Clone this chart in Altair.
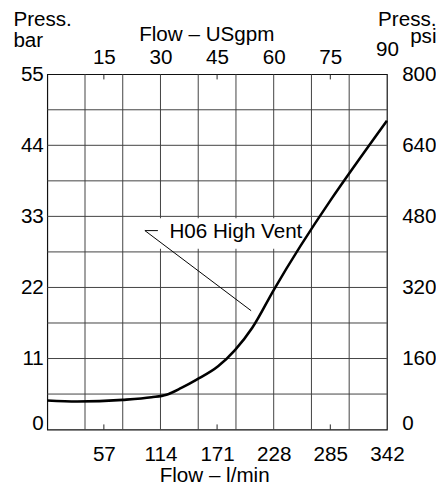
import altair as alt
import pandas as pd

# ---- data ----
flow_lpm = [0, 30, 76, 105, 120, 135, 150, 172, 189, 206.6, 228, 342]
press_bar = [4.5, 4.35, 4.6, 5.0, 5.4, 6.45, 7.7, 9.8, 12.3, 15.8, 21.6, 47.8]

grid_lpm = [38, 76, 114, 152, 190, 228, 266, 304]
grid_bar = [5.5, 11, 16.5, 22, 27.5, 33, 38.5, 44, 49.5]

lpm_labels = [57, 114, 171, 228, 285, 342]
usgpm_labels = [15, 30, 45, 60, 75, 90]
bar_labels = [0, 11, 22, 33, 44, 55]
psi_labels = [0, 160, 320, 480, 640, 800]
minor_tick_lpm = [57, 171, 285]

annot_text = ["H06 High Vent"]
annot_lpm = [123]
annot_bar = [29.6]
leader_lpm = [111.4, 98.3, 205.3]
leader_bar = [30.8, 30.8, 18.4]
box_lpm = [100, 259]
box_bar = [28.0, 32.7]

FONT = "Liberation Sans"
FS = 21

xs = alt.Scale(domain=[0, 342], nice=False, zero=False)
ys = alt.Scale(domain=[0, 55], nice=False, zero=False)
ps = alt.Scale(domain=[0, 800], nice=False, zero=False)

vgrid = alt.Chart(pd.DataFrame({"lpm": grid_lpm})).mark_rule(
    color="#404040", strokeWidth=1
).encode(x=alt.X("lpm:Q", scale=xs, axis=None))

hgrid = alt.Chart(pd.DataFrame({"bar": grid_bar})).mark_rule(
    color="#404040", strokeWidth=1
).encode(y=alt.Y("bar:Q", scale=ys, axis=None))

box = alt.Chart(pd.DataFrame({"x1": [box_lpm[0]], "x2": [box_lpm[1]],
                              "y1": [box_bar[0]], "y2": [box_bar[1]]})).mark_rect(
    fill="white"
).encode(x=alt.X("x1:Q", scale=xs, axis=None), x2="x2:Q",
         y=alt.Y("y1:Q", scale=ys, axis=None), y2="y2:Q")

tick_df = pd.DataFrame({
    "lpm": minor_tick_lpm * 2,
    "y1": [0] * 3 + [55] * 3,
    "y2": [0.8] * 3 + [54.2] * 3,
})
ticks = alt.Chart(tick_df).mark_rule(color="#222", strokeWidth=1).encode(
    x=alt.X("lpm:Q", scale=xs, axis=None),
    y=alt.Y("y1:Q", scale=ys, axis=None), y2="y2:Q")

curve = alt.Chart(pd.DataFrame({"lpm": flow_lpm, "bar": press_bar})).mark_line(
    color="black", strokeWidth=2.6, interpolate="monotone"
).encode(
    x=alt.X("lpm:Q", scale=xs, axis=alt.Axis(
        orient="bottom", values=lpm_labels, ticks=False, grid=False, domain=False,
        labelPadding=14, labelFlush=False, labelOverlap=False,
        title="Flow – l/min", titleBaseline="alphabetic", titleY=53, titleX=170)),
    y=alt.Y("bar:Q", scale=ys, axis=alt.Axis(
        orient="left", values=bar_labels, ticks=False, grid=False, domain=False,
        labelPadding=4, labelOverlap=False,
        labelBaseline={"condition": {"test": "datum.value == 0", "value": "alphabetic"},
                       "value": "middle"},
        title=["Press.", "bar"], titleAngle=0, titleAlign="left",
        titleBaseline="alphabetic", titleX=-35, titleY=-50, titleLineHeight=22)),
)

leader = alt.Chart(pd.DataFrame({"lpm": leader_lpm, "bar": leader_bar,
                                 "o": list(range(len(leader_lpm)))})).mark_line(
    color="black", strokeWidth=1
).encode(x=alt.X("lpm:Q", scale=xs, axis=None),
         y=alt.Y("bar:Q", scale=ys, axis=None), order="o:O")

label = alt.Chart(pd.DataFrame({"lpm": annot_lpm, "bar": annot_bar, "t": annot_text})).mark_text(
    align="left", baseline="alphabetic", font=FONT, fontSize=FS, color="black"
).encode(x=alt.X("lpm:Q", scale=xs, axis=None),
         y=alt.Y("bar:Q", scale=ys, axis=None), text="t:N")

hidden = alt.Chart(pd.DataFrame({"lpm": lpm_labels, "psi": psi_labels})).mark_point(
    opacity=0
).encode(
    x=alt.X("lpm:Q", scale=xs, axis=alt.Axis(
        orient="top", values=lpm_labels, ticks=False, grid=False, domain=False,
        labelExpr="round(datum.value / 3.8)", labelFlush=False, labelOverlap=False,
        labelPadding={"condition": {"test": "datum.value == 342", "value": 15}, "value": 7},
        title="Flow – USgpm", titleBaseline="alphabetic", titleX=162, titleY=-34)),
    y=alt.Y("psi:Q", scale=ps, axis=alt.Axis(
        orient="right", values=psi_labels, ticks=False, grid=False, domain=False,
        labelPadding=15, labelOverlap=False,
        labelBaseline={"condition": {"test": "datum.value == 0", "value": "alphabetic"},
                       "value": "middle"},
        title=["Press.", "psi"], titleAngle=0, titleAlign="right",
        titleBaseline="alphabetic", titleX=50, titleY=-50, titleLineHeight=18)),
)

chart = alt.layer(vgrid, hgrid, box, ticks, curve, leader, label, hidden).resolve_scale(
    y="independent"
).resolve_axis(
    x="independent", y="independent"
).properties(
    width=346, height=362,
    padding={"left": 40, "top": 63, "right": 50, "bottom": 54},
    autosize=alt.AutoSizeParams(type="none"),
).configure_view(
    stroke="#111", strokeWidth=1.2
).configure_axis(
    labelFont=FONT, labelFontSize=FS, labelColor="black",
    titleFont=FONT, titleFontSize=FS, titleColor="black", titleFontWeight="normal",
)

chart.save("out.html", embed_options={"renderer": "svg", "actions": False})
